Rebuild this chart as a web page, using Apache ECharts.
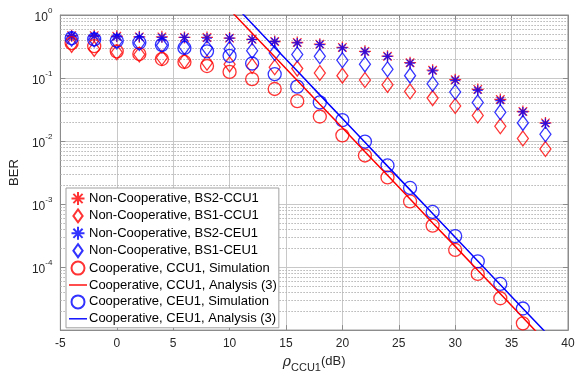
<!DOCTYPE html>
<html>
<head>
<meta charset="utf-8">
<script src="https://cdn.jsdelivr.net/npm/echarts@6/dist/echarts.min.js"></script>
<style>
  html, body { margin: 0; padding: 0; background: #fff; }
  #chart { width: 583px; height: 378px; }
</style>
</head>
<body>
<div id="chart"></div>
<script>
// BER vs rho_CCU1, non-cooperative vs cooperative NOMA
const snrNonCoop = [-4, -2, 0, 2, 4, 6, 8, 10, 12, 14, 16, 18, 20, 22, 24, 26, 28, 30, 32, 34, 36, 38]
const snrCoop = [-4, -2, 0, 2, 4, 6, 8, 10, 12, 14, 16, 18, 20, 22, 24, 26, 28, 30, 32, 34, 36]
const snrAnalysis = [10, 12, 14, 16, 18, 20, 22, 24, 26, 28, 30, 32, 34, 36, 38]

const berBS2CCU1 = [0.47, 0.47, 0.46, 0.45, 0.45, 0.44, 0.44, 0.43, 0.41, 0.38, 0.366, 0.345, 0.306, 0.265, 0.222, 0.175, 0.133, 0.094, 0.066, 0.0456, 0.0294, 0.0194]
const berBS1CCU1 = [0.336, 0.29, 0.256, 0.236, 0.21, 0.186, 0.175, 0.165, 0.155, 0.148, 0.141, 0.12, 0.109, 0.093, 0.078, 0.061, 0.048, 0.036, 0.0255, 0.0172, 0.011, 0.0075]
const berBS2CEU1 = [0.46, 0.46, 0.45, 0.45, 0.44, 0.44, 0.43, 0.43, 0.41, 0.38, 0.36, 0.34, 0.30, 0.26, 0.22, 0.172, 0.13, 0.092, 0.064, 0.044, 0.029, 0.019]
const berBS1CEU1 = [0.42, 0.41, 0.38, 0.36, 0.33, 0.31, 0.30, 0.29, 0.27, 0.25, 0.236, 0.222, 0.192, 0.165, 0.138, 0.109, 0.081, 0.06, 0.041, 0.0287, 0.0194, 0.0128]
const berCoopCCU1Sim = [0.357, 0.32, 0.265, 0.24, 0.2, 0.18, 0.155, 0.125, 0.096, 0.067, 0.043, 0.0245, 0.0123, 0.0059, 0.00265, 0.0011, 4.55e-4, 1.87e-4, 7.8e-5, 3.2e-5, 1.28e-5]
const berCoopCEU1Sim = [0.43, 0.41, 0.39, 0.366, 0.336, 0.30, 0.265, 0.225, 0.17, 0.115, 0.073, 0.041, 0.0215, 0.0098, 0.0041, 0.0018, 7.5e-4, 3.1e-4, 1.23e-4, 5.4e-5, 2.2e-5]
const berCoopCCU1Ana = [1.22, 0.515, 0.217, 0.0912, 0.0384, 0.0162, 0.00678, 0.00287, 0.0012, 5.0e-4, 2.13e-4, 8.9e-5, 3.78e-5, 1.59e-5, 6.6e-6]
const berCoopCEU1Ana = [1.73, 0.729, 0.306, 0.129, 0.054, 0.0227, 0.00955, 0.004, 0.00168, 7.08e-4, 2.97e-4, 1.25e-4, 5.25e-5, 2.2e-5, 9.3e-6]

const legendNames = [
  'Non-Cooperative, BS2-CCU1',
  'Non-Cooperative, BS1-CCU1',
  'Non-Cooperative, BS2-CEU1',
  'Non-Cooperative, BS1-CEU1',
  'Cooperative, CCU1, Simulation',
  'Cooperative, CCU1, Analysis (3)',
  'Cooperative, CEU1, Simulation',
  'Cooperative, CEU1, Analysis (3)',
]

const RED = '#ff0000'
const BLUE = '#0000ff'
const AXIS = '#8c8c8c'
const TXT = '#262626'
const FONT = '"Liberation Sans", Arial, Helvetica, sans-serif'
const ASTERISK = 'path://M0,-1L0,1M-1,0L1,0M-0.71,-0.71L0.71,0.71M-0.71,0.71L0.71,-0.71'
// 图例图标：外框撑满 18x13，保证不被拉伸
const LEG_ASTERISK = 'path://M0,0M18,13M9,0L9,13M2.5,6.5L15.5,6.5M4.4,1.9L13.6,11.1M4.4,11.1L13.6,1.9'
const LEG_DIAMOND = 'path://M0,0M18,13M9,-0.5L14,6.5L9,13.5L4,6.5Z'
const LEG_CIRCLE = 'circle'
const LEG_LINE = 'path://M0,0M18,13M0,5.8L18,5.8L18,7.2L0,7.2Z'
const legendIcons = [LEG_ASTERISK, LEG_DIAMOND, LEG_ASTERISK, LEG_DIAMOND, LEG_CIRCLE, LEG_LINE, LEG_CIRCLE, LEG_LINE]

const pairs = (xs, ys) => xs.map((x, i) => [x, ys[i]])

// minor log grid (2..9 x 10^k)
const minorLines = []
for (let k = -5; k < 0; k++) {
  for (let m = 2; m <= 9; m++) minorLines.push({ yAxis: m * Math.pow(10, k) })
}

function markers(name, data, symbol, size, color) {
  return {
    name, type: 'scatter', data, symbol, symbolSize: size, symbolKeepAspect: true,
    itemStyle: { color: 'rgba(0,0,0,0)', borderColor: color, borderWidth: 1.3 },
    emphasis: { disabled: true },
  }
}
function analysis(name, data, color) {
  return {
    name, type: 'line', data, symbol: 'none', clip: true,
    lineStyle: { color, width: 1.5 }, itemStyle: { color },
    emphasis: { disabled: true },
  }
}

const chart = echarts.init(document.getElementById('chart'), null, { renderer: 'canvas' })
chart.setOption({
  animation: false,
  backgroundColor: '#fff',
  textStyle: { fontFamily: FONT },
  grid: { left: 60, right: 15, top: 15, bottom: 43, containLabel: false,
    show: true, borderColor: AXIS, borderWidth: 1, backgroundColor: '#fff' },
  legend: {
    orient: 'vertical', left: 66, top: 188, z: 20,
    padding: [3, 2, 2, 2], itemGap: 2.4, itemWidth: 18, itemHeight: 13,
    backgroundColor: '#fff', borderColor: '#a0a0a0', borderWidth: 1,
    textStyle: { fontSize: 13, color: '#000', fontFamily: FONT, lineHeight: 14, padding: [0, 0, 0, -3] },
    data: legendNames.map((n, i) => ({ name: n, icon: legendIcons[i] })),
  },
  xAxis: [{
    type: 'value', min: -5, max: 40, interval: 5,
    name: '{r|ρ}{s|CCU1}{d|(dB)}', nameLocation: 'middle', nameGap: 20,
    nameTextStyle: {
      rich: {
        r: { fontSize: 14, fontStyle: 'italic', fontFamily: '"DejaVu Serif", serif', color: TXT, verticalAlign: 'top', lineHeight: 18 },
        s: { fontSize: 11, color: TXT, verticalAlign: 'bottom', lineHeight: 12 },
        d: { fontSize: 13, color: TXT, verticalAlign: 'top', lineHeight: 16 },
      },
    },
    axisLine: { show: true, lineStyle: { color: AXIS } },
    axisTick: { show: true, inside: true, length: 5, lineStyle: { color: AXIS } },
    axisLabel: { fontSize: 12, color: TXT, margin: 8, fontFamily: FONT },
    splitLine: { show: true, lineStyle: { color: '#c8c8c8', width: 1 } },
  }, {
    type: 'value', min: -5, max: 40, interval: 5, position: 'top',
    axisLine: { show: true, onZero: false, lineStyle: { color: AXIS } },
    axisTick: { show: true, inside: true, length: 5, lineStyle: { color: AXIS } },
    axisLabel: { show: false }, splitLine: { show: false },
  }],
  yAxis: [{
    type: 'log', logBase: 10, min: 1e-5, max: 1,
    name: 'BER', nameLocation: 'middle', nameGap: 25, nameRotate: 90,
    nameTextStyle: { fontSize: 13, color: TXT, fontFamily: FONT },
    axisLine: { show: true, onZero: false, lineStyle: { color: AXIS } },
    axisTick: { show: true, inside: true, length: 5, lineStyle: { color: AXIS } },
    axisLabel: {
      margin: 8, color: TXT,
      formatter: v => {
        const e = Math.round(Math.log10(v))
        return e <= -5 ? '' : '{b|10}{e|' + e + '}'
      },
      rich: {
        b: { fontSize: 12, color: TXT, verticalAlign: 'bottom', lineHeight: 17 },
        e: { fontSize: 8, color: TXT, verticalAlign: 'top', lineHeight: 10 },
      },
    },
    splitLine: { show: true, lineStyle: { color: '#c8c8c8', width: 1 } },
  }, {
    type: 'log', logBase: 10, min: 1e-5, max: 1, position: 'right',
    axisLine: { show: true, onZero: false, lineStyle: { color: AXIS } },
    axisTick: { show: true, inside: true, length: 5, lineStyle: { color: AXIS } },
    axisLabel: { show: false }, splitLine: { show: false },
  }],
  series: [
    {
      // 次网格线（precision 默认 2，会把小值截成 0）
      name: '_minor', type: 'line', data: [], silent: true, z: 1,
      markLine: {
        silent: true, symbol: 'none', label: { show: false }, precision: 20, z: 1,
        lineStyle: { color: '#b4b4b4', type: [1.5, 1.5], width: 1 },
        emphasis: { disabled: true },
        data: minorLines,
      },
    },
    markers(legendNames[0], pairs(snrNonCoop, berBS2CCU1), ASTERISK, 12, RED),
    markers(legendNames[1], pairs(snrNonCoop, berBS1CCU1), 'diamond', [11, 15], RED),
    markers(legendNames[2], pairs(snrNonCoop, berBS2CEU1), ASTERISK, 10, BLUE),
    markers(legendNames[3], pairs(snrNonCoop, berBS1CEU1), 'diamond', [11, 15], BLUE),
    markers(legendNames[4], pairs(snrCoop, berCoopCCU1Sim), 'circle', 13, RED),
    analysis(legendNames[5], pairs(snrAnalysis, berCoopCCU1Ana), RED),
    markers(legendNames[6], pairs(snrCoop, berCoopCEU1Sim), 'circle', 13, BLUE),
    analysis(legendNames[7], pairs(snrAnalysis, berCoopCEU1Ana), BLUE),
  ],
})
</script>
</body>
</html>
